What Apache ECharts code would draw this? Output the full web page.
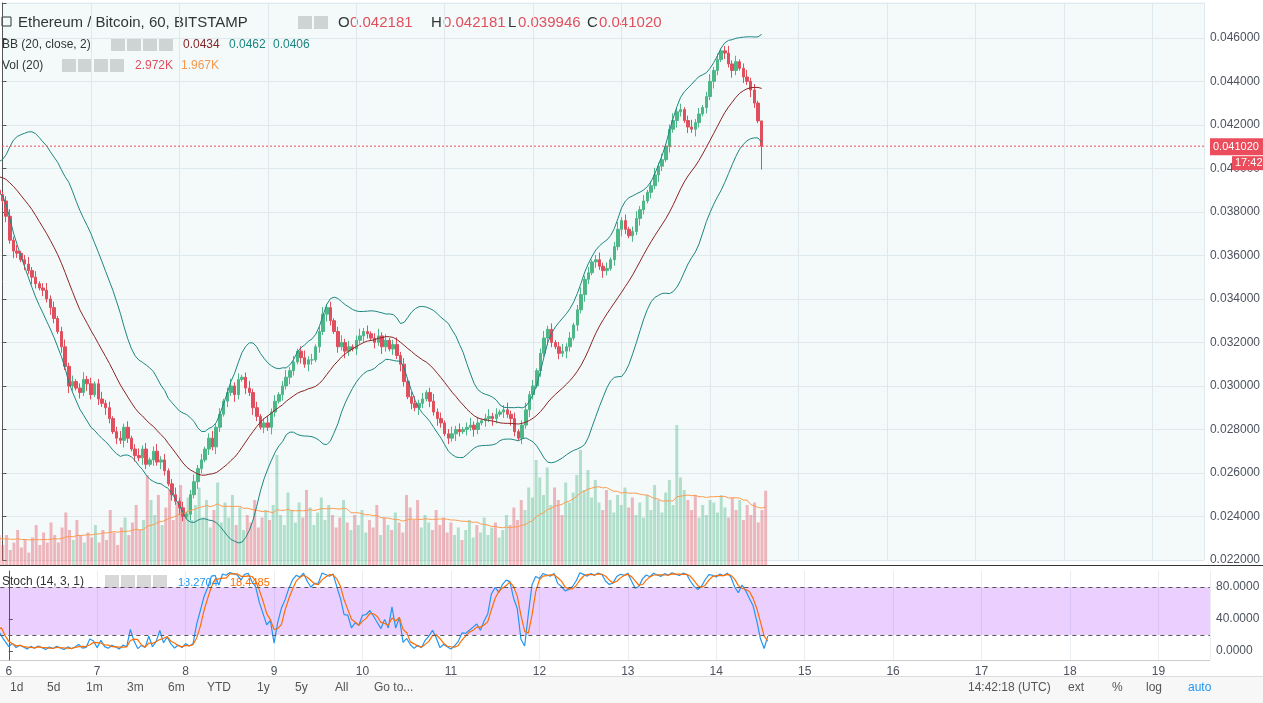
<!DOCTYPE html>
<html><head><meta charset="utf-8">
<script src="https://cdn.jsdelivr.net/npm/echarts@6/dist/echarts.min.js"></script>
<style>html,body{margin:0;padding:0;background:#fff;overflow:hidden}#wrap{position:relative;width:1263px;height:703px;overflow:hidden}#c{position:absolute;left:-86px;top:0;width:1349px;height:703px}</style>
</head><body><div id="wrap"><div id="c"></div></div>
<script>
// closes in units of 0.0001 BTC, hourly
const closesPrior=[392,395,398,396,399,401,398,395,397,400,402,399,396,398,395,393,396,394,390,388];
const closesDay6=[385,378,367,362,361,358,356,353,350,347,345,344,340,336,331,325,318,309,300,302,299,297,303,301];
const closesDay7=[296,301,294,292,290,285,279,276,275,281,276,271,268,267,271,264,266,270,265,266,261,255,250,247];
const closesDay8=[244,240,241,250,256,262,266,271,276,272,281,287,293,297,300,296,303,304,299,297,290,286,281,283];
const closesDay9=[281,288,293,296,300,304,307,311,316,313,310,312,312,318,325,333,336,330,325,318,320,316,318,317];
const closesDay10=[321,323,325,324,322,320,323,318,321,317,319,314,310,302,295,292,290,292,294,297,293,288,285,283];
const closesDay11=[278,276,278,280,279,280,281,282,280,283,284,285,286,285,287,288,289,287,285,279,276,282,289,296];
const closesDay12=[300,307,315,322,326,320,318,315,316,318,322,328,335,342,349,352,357,358,355,353,354,358,364,372];
const closesDay13=[376,372,369,371,377,381,385,389,392,397,401,404,410,418,422,426,427,422,419,418,421,425,428,433];
const closesDay14=[440,445,450,454,453,448,445,449,446,442,440,436,430,421.81,410.2];
// volumes in thousands
const volPrior=[1.0,1.2,0.8,1.1,0.9,1.3,1.0,0.7,1.2,1.4,0.9,1.1,1.0,1.3,0.8,1.2,1.0,0.9,1.1,1.2];
const volDay6=[0.8,1.2,0.6,0.9,1.4,0.7,1.0,0.5,1.1,1.6,0.8,1.3,0.9,1.7,1.2,0.9,1.5,2.1,1.4,1.0,1.8,1.2,0.9,1.3];
const volDay7=[1.1,1.6,0.9,1.4,1.0,2.2,1.3,0.8,1.5,1.9,1.2,1.7,2.4,1.4,1.8,3.6,2.6,2.0,2.8,1.6,2.3,3.0,1.8,2.5];
const volDay8=[3.2,2.1,2.7,1.8,2.4,3.1,1.9,2.6,1.5,2.2,3.3,1.7,2.5,1.9,2.8,1.6,2.3,1.4,2.0,1.7,2.6,1.5,1.9,2.2];
const volDay9=[1.8,2.4,4.4,2.0,1.6,2.9,2.2,1.7,2.5,1.9,3.0,2.3,1.6,2.1,2.7,1.8,2.4,2.0,1.5,1.9,2.6,1.7,1.4,2.0];
const volDay10=[1.6,2.2,1.3,1.8,1.5,2.4,1.2,1.9,1.6,1.4,2.1,1.7,1.3,2.8,2.3,1.8,2.6,1.5,2.0,1.7,1.4,2.2,1.6,1.9];
const volDay11=[1.3,1.7,1.2,1.5,1.0,1.4,1.8,1.1,1.6,1.3,1.9,1.2,1.5,1.7,1.1,1.4,2.0,1.6,2.3,1.8,2.6,2.2,3.1,2.7];
const volDay12=[4.2,3.5,2.8,3.9,2.4,3.1,2.6,2.0,3.3,2.5,2.9,3.6,4.6,3.0,3.8,2.7,3.4,2.5,2.2,3.0,2.6,2.1,2.8,2.4];
const volDay13=[3.1,2.3,2.7,2.0,2.5,1.9,2.8,2.2,3.2,2.6,2.1,2.9,3.4,2.4,5.6,3.5,3.0,2.6,2.2,2.8,1.9,2.4,2.0,2.6];
const volDay14=[2.5,2.1,2.8,2.3,1.9,2.7,2.2,2.6,1.8,2.4,2.0,2.5,1.7,2.2,2.97];
const lastOHLC=[0.042181,0.042181,0.039946,0.041020];
const lastPrice=0.04102;
const dayLabels=['5','6','7','8','9','10','11','12','13','14','15','16','17','18','19'];

const closes=[].concat(closesPrior,closesDay6,closesDay7,closesDay8,closesDay9,closesDay10,closesDay11,closesDay12,closesDay13,closesDay14).map(v=>v/10000);
const vols=[].concat(volPrior,volDay6,volDay7,volDay8,volDay9,volDay10,volDay11,volDay12,volDay13,volDay14);
const N=closes.length, off=closesPrior.length;
const W=0.00022;
const candles=[],volData=[],hs=[],ls=[];
for(let i=0;i<N;i++){
  const t=i-off;
  let o=i?closes[i-1]:closes[0]+0.0002, c=closes[i];
  let h=Math.max(o,c)+W*(0.5+((i*7)%5)/4), l=Math.min(o,c)-W*(0.5+((i*3)%5)/4);
  if(i===N-1){o=lastOHLC[0];h=lastOHLC[1];l=lastOHLC[2];c=lastOHLC[3];}
  hs.push(h);ls.push(l);
  candles.push([t,o,c,l,h]);
  volData.push({value:[t,vols[i]],itemStyle:{color:c>=o?'rgba(83,185,135,0.4)':'rgba(235,77,92,0.4)'}});
}
const bbU=[],bbL=[],bbM=[],bbD=[],vma=[];
for(let i=19;i<N;i++){
  const s=closes.slice(i-19,i+1);const m=s.reduce((a,b)=>a+b,0)/20;
  const sd=Math.sqrt(s.reduce((a,b)=>a+(b-m)*(b-m),0)/20);
  const t=i-off;
  bbM.push([t,m]);bbU.push([t,m+2*sd]);bbL.push([t,m-2*sd]);bbD.push([t,4*sd]);
  vma.push([t,vols.slice(i-19,i+1).reduce((a,b)=>a+b,0)/20]);
}
const kRaw=[];
for(let i=13;i<N;i++){
  const hh=Math.max(...hs.slice(i-13,i+1)),ll=Math.min(...ls.slice(i-13,i+1));
  kRaw.push([i-off,100*(closes[i]-ll)/(hh-ll)]);
}
const kD=[];
for(let j=2;j<kRaw.length;j++) kD.push([kRaw[j][0],(kRaw[j][1]+kRaw[j-1][1]+kRaw[j-2][1])/3]);

const S=86, GR=53;
const xBase={type:'value',min:-24,max:326,interval:24,axisLine:{show:false},axisTick:{show:false},
  splitLine:{show:true,lineStyle:{color:'#e9eef3'}},axisLabel:{show:false}};
const font='"Liberation Sans"';
const chart=echarts.init(document.getElementById('c'));
const txt=(y,size,parts)=>parts.map(p=>({type:'text',x:p[2]+S,y:y,style:{text:p[0],fill:p[1],font:size+' '+font}}));
const icons=(x,y,n)=>{const a=[];for(let k=0;k<n;k++)a.push({type:'rect',shape:{x:S+x+k*16,y:y,width:14,height:13},style:{fill:'#d8d8d8'}});return a;};
chart.setOption({
  animation:false,
  grid:[
    {left:0,right:GR,top:3,height:557},
    {left:0,right:GR,top:265,height:300},
    {left:0,right:GR,top:571,height:89}
  ],
  xAxis:[
    Object.assign({},xBase,{gridIndex:0}),
    Object.assign({},xBase,{gridIndex:1,splitLine:{show:false}}),
    Object.assign({},xBase,{gridIndex:2,axisLabel:{show:true,color:'#4c525e',fontSize:12,fontFamily:font,margin:6,
      formatter:v=>(dayLabels[(v+24)/24]||'')}})
  ],
  yAxis:[
    {gridIndex:0,type:'value',position:'right',min:0.022,max:0.0476,interval:0.002,
      axisLine:{show:true,lineStyle:{color:'#555'}},axisTick:{show:true,length:4,lineStyle:{color:'#555'}},
      splitLine:{lineStyle:{color:'#e9eef3'}},
      axisLabel:{color:'#4c525e',fontSize:12,fontFamily:font,margin:6,formatter:v=>v>0.0465?'':v.toFixed(6)}},
    {gridIndex:1,type:'value',min:0,max:12,show:false},
    {gridIndex:2,type:'value',position:'right',min:-11.25,max:100,
      axisLine:{show:true,lineStyle:{color:'#555'}},splitLine:{show:false},
      axisTick:{show:true,length:4,customValues:[0,40,80]},
      axisLabel:{color:'#4c525e',fontSize:12,fontFamily:font,margin:6,customValues:[0,40,80],formatter:v=>v.toFixed(4)}}
  ],
  series:[
    {type:'line',xAxisIndex:0,yAxisIndex:0,data:bbL,stack:'bb',symbol:'none',lineStyle:{opacity:0},silent:true},
    {type:'line',xAxisIndex:0,yAxisIndex:0,data:bbD,stack:'bb',symbol:'none',lineStyle:{opacity:0},areaStyle:{color:'rgba(0,150,136,0.06)'},silent:true},
    {type:'bar',xAxisIndex:1,yAxisIndex:1,data:volData,barWidth:3},
    {type:'line',xAxisIndex:1,yAxisIndex:1,data:vma,symbol:'none',lineStyle:{color:'#ff9a4d',width:1}},
    {type:'line',xAxisIndex:0,yAxisIndex:0,data:bbU,symbol:'none',lineStyle:{color:'#1c8580',width:1}},
    {type:'line',xAxisIndex:0,yAxisIndex:0,data:bbL,symbol:'none',lineStyle:{color:'#1c8580',width:1}},
    {type:'line',xAxisIndex:0,yAxisIndex:0,data:bbM,symbol:'none',lineStyle:{color:'#8b2222',width:1}},
    {type:'line',xAxisIndex:0,yAxisIndex:0,data:[[-24,lastPrice],[326,lastPrice]],symbol:'none',silent:true,
      lineStyle:{color:'#eb4d5c',type:[2,2],width:1}},
    {type:'candlestick',xAxisIndex:0,yAxisIndex:0,data:candles,barWidth:3,
      itemStyle:{color:'#53b987',color0:'#eb4d5c',borderColor:'#53b987',borderColor0:'#eb4d5c',borderWidth:1}},
    {type:'line',xAxisIndex:2,yAxisIndex:2,data:kRaw,symbol:'none',lineStyle:{color:'#2196f3',width:1.2},
      markArea:{silent:true,itemStyle:{color:'rgba(153,21,255,0.2)'},data:[[{yAxis:20},{yAxis:80}]]},
      markLine:{symbol:'none',silent:true,data:[{yAxis:20},{yAxis:80}],lineStyle:{color:'#555',type:[4,4],width:1},label:{show:false}}},
    {type:'line',xAxisIndex:2,yAxisIndex:2,data:kD,symbol:'none',lineStyle:{color:'#ff6d00',width:1.2}}
  ],
  graphic:[].concat(
    [{type:'rect',shape:{x:S,y:565,width:1263,height:1},style:{fill:'#333'}},
     {type:'rect',shape:{x:S,y:660,width:1210,height:1},style:{fill:'#ccc'}},
     {type:'rect',shape:{x:S,y:676,width:1263,height:27},style:{fill:'#f7f7f7'}},
     {type:'rect',shape:{x:S,y:676,width:1263,height:1},style:{fill:'#ddd'}},
     {type:'rect',shape:{x:S+2,y:17,width:9,height:9},style:{fill:'none',stroke:'#333'}}],
    icons(298,16,2),icons(111,38,4),icons(62,59,4),icons(105,575,4),
    txt(15,'15px',[['Ethereum / Bitcoin, 60, BITSTAMP','#333',18],['O','#333',338],['0.042181','#eb4d5c',350],['H','#333',431],['0.042181','#eb4d5c',443],['L','#333',508],['0.039946','#eb4d5c',518],['C','#333',587],['0.041020','#eb4d5c',599]]),
    txt(39,'12px',[['BB (20, close, 2)','#333',2],['0.0434','#8b2222',183],['0.0462','#1c8580',229],['0.0406','#1c8580',273]]),
    txt(60,'12px',[['Vol (20)','#333',2],['2.972K','#eb4d5c',135],['1.967K','#ff9a4d',181]]),
    txt(576,'12px',[['Stoch (14, 3, 1)','#333',2]]),
    txt(577,'11px',[['18.2704','#2196f3',178],['18.4485','#ff6d00',230]]),
    txt(682,'12px',[['1d','#555',10],['5d','#555',47],['1m','#555',86],['3m','#555',127],['6m','#555',168],['YTD','#555',207],['1y','#555',257],['5y','#555',295],['All','#555',335],['Go to...','#555',374],
      ['14:42:18 (UTC)','#555',968],['ext','#555',1068],['%','#555',1112],['log','#555',1146],['auto','#2196f3',1188]])
  )
});
const py=chart.convertToPixel({xAxisIndex:0,yAxisIndex:0},[0,lastPrice])[1];
chart.setOption({graphic:[
  {id:'pl',type:'rect',shape:{x:S+1210,y:py-8,width:53,height:17},style:{fill:'#eb4d5c'},z:100},
  {id:'pt',type:'text',x:S+1213,y:py-5,style:{text:'0.041020',fill:'#fff',font:'11px '+font},z:101},
  {id:'tl',type:'rect',shape:{x:S+1232,y:py+10,width:31,height:14},style:{fill:'#eb4d5c'},z:100},
  {id:'tt',type:'text',x:S+1235,y:py+11,style:{text:'17:42',fill:'#fff',font:'11px '+font},z:101}
]});
</script></body></html>
